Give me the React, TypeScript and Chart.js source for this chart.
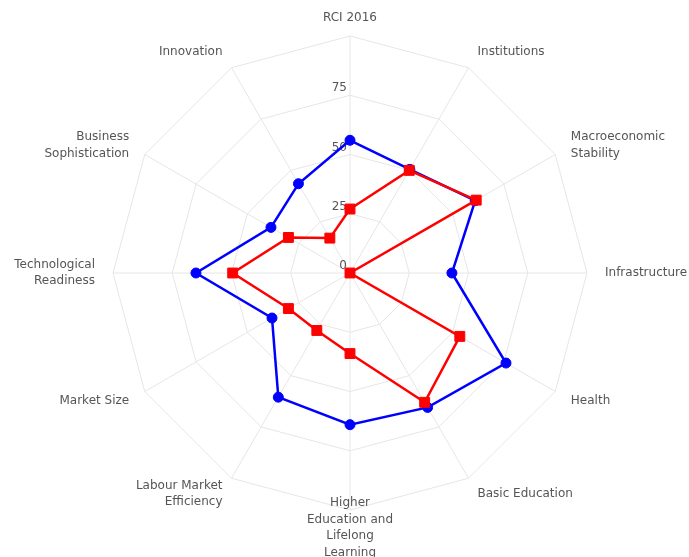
import React, { useEffect, useRef } from "react";
import { Chart, registerables } from "chart.js";

Chart.register(...registerables);

const categories: string[][] = [
  ["RCI 2016"],
  ["Institutions"],
  ["Macroeconomic", "Stability"],
  ["Infrastructure"],
  ["Health"],
  ["Basic Education"],
  ["Higher", "Education and", "Lifelong", "Learning"],
  ["Labour Market", "Efficiency"],
  ["Market Size"],
  ["Technological", "Readiness"],
  ["Business", "Sophistication"],
  ["Innovation"],
];

const blueValues = [56, 50.5, 61, 43, 76, 65.5, 64, 60.5, 38, 65, 38.5, 43.5];
const redValues = [27, 50, 61.5, 0, 53.5, 63, 34, 28, 30, 49.5, 30, 17];
const tickValues = [0, 25, 50, 75];

const FONT = "12px 'DejaVu Sans', sans-serif";
const TEXT_COLOR = "#555555";

const labelPlugin = {
  id: "customLabels",
  beforeDatasetsDraw(chart: any) {
    const scale = chart.scales.r;
    const ctx = chart.ctx;
    ctx.save();
    ctx.font = FONT;
    ctx.fillStyle = TEXT_COLOR;
    ctx.textAlign = "right";
    ctx.textBaseline = "middle";
    tickValues.forEach((v) => {
      const d = scale.getDistanceFromCenterForValue(v);
      ctx.fillText(String(v), scale.xCenter - 3, scale.yCenter - d - 7);
    });
    ctx.restore();
  },
  afterDraw(chart: any) {
    const scale = chart.scales.r;
    const ctx = chart.ctx;
    const labels = chart.data.labels as string[][];
    ctx.save();
    ctx.font = FONT;
    ctx.fillStyle = TEXT_COLOR;
    ctx.textBaseline = "middle";
    const lh = 16.5;
    labels.forEach((lines, i) => {
      const p = scale.getPointPosition(i, scale.drawingArea + 18);
      const dx = p.x - scale.xCenter;
      ctx.textAlign = Math.abs(dx) < 1 ? "center" : dx > 0 ? "left" : "right";
      const startY = p.y - ((lines.length - 1) * lh) / 2;
      lines.forEach((ln, j) => {
        ctx.fillText(ln, p.x, startY + j * lh);
      });
    });
    ctx.restore();
  },
};

export default function App() {
  const ref = useRef<HTMLCanvasElement | null>(null);
  useEffect(() => {
    if (!ref.current) return;
    const chart = new Chart(ref.current, {
      type: "radar",
      data: {
        labels: categories as any,
        datasets: [
          {
            label: "Red",
            data: redValues,
            borderColor: "#ff0000",
            backgroundColor: "#ff0000",
            pointBackgroundColor: "#ff0000",
            pointBorderColor: "#ff0000",
            pointStyle: "rect",
            pointRadius: 7,
            pointBorderWidth: 1,
            borderWidth: 2.5,
            fill: false,
          },
          {
            label: "Blue",
            data: blueValues,
            borderColor: "#0000ff",
            backgroundColor: "#0000ff",
            pointBackgroundColor: "#0000ff",
            pointBorderColor: "#0000ff",
            pointStyle: "circle",
            pointRadius: 5,
            pointBorderWidth: 1,
            borderWidth: 2.5,
            fill: false,
          },
        ],
      },
      options: {
        animation: false,
        responsive: false,
        maintainAspectRatio: false,
        layout: { padding: { left: 113, right: 102, top: 36, bottom: 47 } },
        plugins: { legend: { display: false }, tooltip: { enabled: false } },
        elements: { line: { tension: 0 } },
        scales: {
          r: {
            min: 0,
            max: 100,
            ticks: { display: false, stepSize: 25 },
            pointLabels: { display: false },
            grid: { color: "#e6e6e6", lineWidth: 1 },
            angleLines: { color: "#e6e6e6", lineWidth: 1 },
          },
        },
      },
      plugins: [labelPlugin],
    });
    return () => chart.destroy();
  }, []);
  return (
    <div
      style={{
        position: "fixed",
        left: 0,
        top: 0,
        width: 689,
        height: 557,
        overflow: "hidden",
        background: "#ffffff",
      }}
    >
      <canvas ref={ref} width={689} height={557} style={{ display: "block" }} />
    </div>
  );
}
